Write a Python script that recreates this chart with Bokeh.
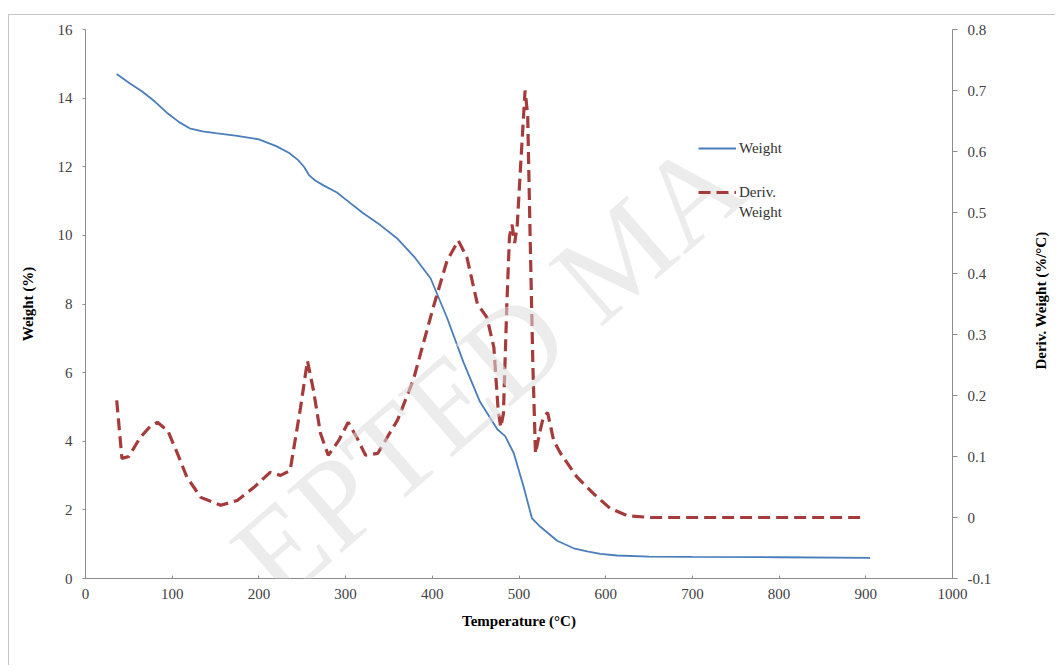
import math
from bokeh.plotting import figure
from bokeh.layouts import row
from bokeh.models import (Range1d, LinearAxis, FixedTicker, Legend, LegendItem, Label,
                          ColumnDataSource)
from bokeh.core.properties import value
from bokeh.embed import file_html
from bokeh.resources import INLINE

# Thermogravimetric data: residual weight and its derivative vs temperature
temp_w = [36, 50, 65, 80, 95, 108, 120, 135, 150, 175, 200, 220, 235, 245, 252, 258,
          265, 275, 290, 300, 320, 340, 360, 380, 398, 417, 436, 455, 475, 484, 494,
          505, 515, 525, 544, 563, 580, 594, 613, 650, 700, 800, 905]
weight = [14.7, 14.45, 14.2, 13.9, 13.55, 13.3, 13.12, 13.03, 12.98, 12.9, 12.8, 12.6,
          12.4, 12.2, 12.0, 11.75, 11.6, 11.45, 11.25, 11.05, 10.65, 10.3, 9.9, 9.35,
          8.75, 7.6, 6.3, 5.15, 4.35, 4.15, 3.65, 2.7, 1.75, 1.5, 1.1, 0.88, 0.78,
          0.72, 0.67, 0.64, 0.63, 0.62, 0.6]

temp_d = [36, 42, 50, 63, 75, 83, 95, 106, 117, 133, 156, 175, 194, 213, 225, 236,
          248, 256, 263, 271, 280, 292, 303, 313, 323, 337, 360, 378, 401, 417, 430,
          440, 452, 463, 471, 476, 479, 482, 486, 489, 492, 495, 498, 502, 507, 510,
          513, 516, 519, 524, 528, 533, 540, 548, 567, 586, 605, 625, 652, 700, 800, 896]
deriv = [0.192, 0.097, 0.10, 0.131, 0.150, 0.156, 0.142, 0.105, 0.066, 0.033, 0.02,
         0.028, 0.049, 0.074, 0.069, 0.077, 0.18, 0.257, 0.208, 0.138, 0.102, 0.126,
         0.156, 0.131, 0.102, 0.105, 0.16, 0.225, 0.344, 0.421, 0.454, 0.426, 0.35,
         0.328, 0.279, 0.175, 0.148, 0.17, 0.35, 0.46, 0.48, 0.45, 0.48, 0.58, 0.70,
         0.66, 0.45, 0.25, 0.105, 0.14, 0.164, 0.172, 0.126, 0.105, 0.066, 0.039,
         0.015, 0.003, 0.0, 0.0, 0.0, 0.0]

x_ticks = [0, 100, 200, 300, 400, 500, 600, 700, 800, 900, 1000]
w_ticks = [0, 2, 4, 6, 8, 10, 12, 14, 16]
d_ticks = [-0.1, 0, 0.1, 0.2, 0.3, 0.4, 0.5, 0.6, 0.7, 0.8]
d_labels = ["-0.1", "0", "0.1", "0.2", "0.3", "0.4", "0.5", "0.6", "0.7", "0.8"]
right_title = "Deriv. Weight (%/°C)"

SERIF = "Liberation Serif"
TICK_COLOR = "#404040"
AXIS_COLOR = "#8c8c8c"

FRAME_W, FRAME_H = 867, 549
X_MAX, W_MAX = 1000, 16
BORDER_TOP, BORDER_BOTTOM = 14, 87

p = figure(frame_width=FRAME_W, frame_height=FRAME_H,
           min_border_left=76, min_border_right=73,
           min_border_top=BORDER_TOP, min_border_bottom=BORDER_BOTTOM,
           x_range=Range1d(0, X_MAX), y_range=Range1d(0, W_MAX),
           output_backend="svg", toolbar_location=None)
p.outline_line_color = None
p.xgrid.visible = False
p.ygrid.visible = False
p.background_fill_color = "white"
p.border_fill_color = "white"

p.extra_y_ranges = {"deriv": Range1d(-0.1, 0.8)}
right_axis = LinearAxis(y_range_name="deriv")
p.add_layout(right_axis, "right")

for ax in (p.xaxis[0], p.yaxis[0], right_axis):
    ax.axis_line_color = AXIS_COLOR
    ax.major_tick_line_color = AXIS_COLOR
    ax.minor_tick_line_color = None
    ax.major_label_text_font = SERIF
    ax.major_label_text_font_size = "15px"
    ax.major_label_text_color = TICK_COLOR
    ax.axis_label_text_font = SERIF
    ax.axis_label_text_font_size = "15px"
    ax.axis_label_text_font_style = "bold"
    ax.axis_label_text_color = "black"

xa = p.xaxis[0]
xa.ticker = FixedTicker(ticks=x_ticks)
xa.major_tick_in = 3
xa.major_tick_out = 0
xa.major_label_standoff = 10
xa.axis_label = "Temperature (°C)"
xa.axis_label_standoff = 11

ya = p.yaxis[0]
ya.ticker = FixedTicker(ticks=w_ticks)
ya.major_tick_in = 0
ya.major_tick_out = 3
ya.major_label_standoff = 10
ya.axis_label = "Weight (%)"
ya.axis_label_standoff = 19

right_axis.ticker = FixedTicker(ticks=d_ticks)
right_axis.major_label_overrides = dict(zip(d_ticks, d_labels))
right_axis.major_tick_in = 0
right_axis.major_tick_out = 5
right_axis.major_label_standoff = 10

r_w = p.line(temp_w, weight, line_color="#4a7ebb", line_width=1.8)
r_d = p.line(temp_d, deriv, y_range_name="deriv", line_color="#a53b3b",
             line_width=3.2, line_dash="12 6")
# empty, transparent line used only to carry the second legend text line
r_blank = p.line(x="x", y="y", source=ColumnDataSource(data=dict(x=[], y=[])),
                 line_alpha=0)


def style_legend(lg):
    lg.border_line_color = None
    lg.background_fill_alpha = 0
    lg.padding = 0
    lg.margin = 0
    lg.spacing = 0
    lg.glyph_width = 38
    lg.glyph_height = 20
    lg.label_height = 20
    lg.label_standoff = 3
    lg.label_text_font = SERIF
    lg.label_text_font_size = "15px"
    lg.label_text_color = "#333333"


legend_w = Legend(items=[LegendItem(label="Weight", renderers=[r_w])],
                  location=(613, 420))
legend_d = Legend(items=[LegendItem(label="Deriv.", renderers=[r_d]),
                         LegendItem(label="Weight", renderers=[r_blank])],
                  location=(613, 356))
style_legend(legend_w)
style_legend(legend_d)
p.add_layout(legend_w, "center")
p.add_layout(legend_d, "center")

# faint diagonal watermark, laid out letter by letter along a 41 degree baseline
wm_text = "ACCEPTED MANUSCRIPT"
wm_adv = {"A": 0.722, "C": 0.667, "E": 0.611, "P": 0.556, "T": 0.611, "D": 0.722,
          " ": 0.25, "M": 0.889, "N": 0.722, "U": 0.722, "S": 0.556, "R": 0.667,
          "I": 0.333}
wm_size = 126
wm_angle = math.radians(41)
wm_start = (56, 744)          # baseline start in page pixels
px_x = FRAME_W / X_MAX
px_y = FRAME_H / W_MAX
frame_left, frame_top = 85, 29
pos = 0.0
for ch in wm_text:
    sx = wm_start[0] + pos * math.cos(wm_angle)
    sy = wm_start[1] - pos * math.sin(wm_angle)
    adv = wm_adv[ch] * wm_size
    pos += adv
    if ch == " ":
        continue
    # keep only the letters that sit wholly inside the plotting area
    low_y = sy + 0.2 * wm_size * math.cos(wm_angle)
    top_y = sy - adv * math.sin(wm_angle) - 0.9 * wm_size * math.cos(wm_angle)
    if low_y > 600 or top_y < 29:
        continue
    dx = (sx - frame_left) / px_x
    dy = (frame_top + FRAME_H - sy) / px_y
    p.add_layout(Label(x=dx, y=dy, text=ch, angle=41, angle_units="deg",
                       text_font=SERIF, text_font_size=f"{wm_size}px",
                       text_color="#dcdcdc", text_alpha=0.55,
                       text_align="left", text_baseline="alphabetic"))

# narrow strip carrying the right-hand axis title, reading bottom to top
t = figure(width=30, frame_height=FRAME_H,
           min_border_left=0, min_border_right=0,
           min_border_top=BORDER_TOP, min_border_bottom=BORDER_BOTTOM,
           x_range=Range1d(0, 1), y_range=Range1d(0, W_MAX),
           output_backend="svg", toolbar_location=None)
t.axis.visible = False
t.xgrid.visible = False
t.ygrid.visible = False
t.outline_line_color = None
t.background_fill_color = "white"
t.border_fill_color = "white"
t.text(x=[0.5], y=[8.1], text=[right_title], angle=90, angle_units="deg",
       text_font=value(SERIF), text_font_size="15px", text_font_style="bold",
       text_color="black", text_align="center", text_baseline="middle")

layout = row(p, t, margin=(14, 0, 0, 8),
             styles={"border-top": "1px solid #c4c4c4",
                     "border-left": "1px solid #c4c4c4"})

open("out.html", "w").write(file_html(layout, INLINE))
